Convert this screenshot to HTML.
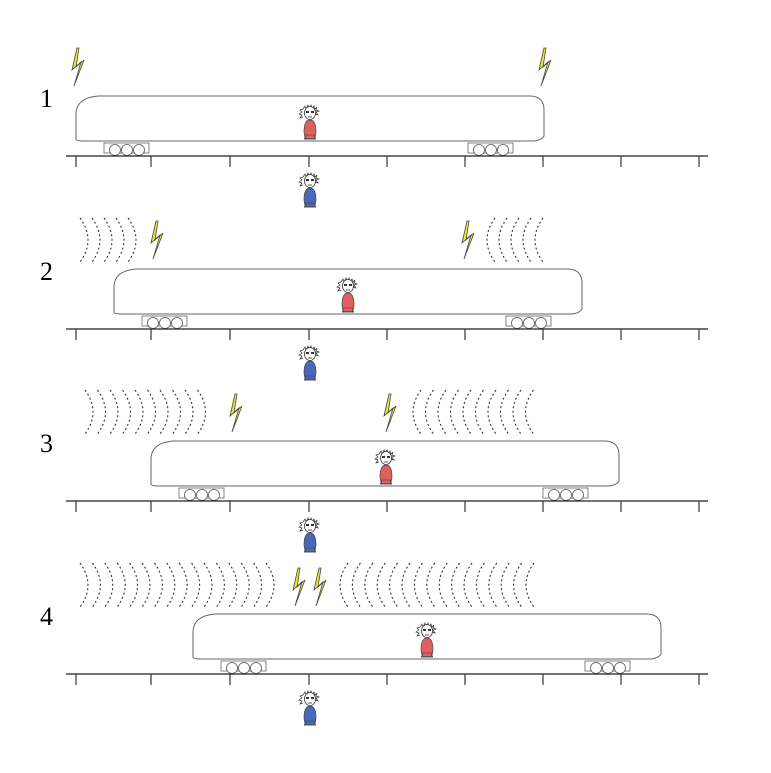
<!DOCTYPE html>
<html><head><meta charset="utf-8"><style>html,body{margin:0;padding:0;background:#fff}svg{display:block}</style></head>
<body>
<svg width="771" height="773" viewBox="0 0 771 773" xmlns="http://www.w3.org/2000/svg">
<defs>
<g id="bolt">
<polygon points="5,0 0,22 9,14 2,38 12,12 4,19 7,0" fill="#e8e830" stroke="#444" stroke-width="0.8"/>
</g>
<g id="person">
<path d="M-7,-30 l2,-3 l1,3 l2,-4 l1,4 l2,-4 l1,4 l2,-3 l1,3 l2,-2 l-1,3 l3,1 l-3,1 l2,3 l-3,-1 M-7,-30 l-3,1 l2,2 l-3,2 l3,1 l-2,3 l3,-1" fill="none" stroke="#333" stroke-width="0.7"/>
<ellipse cx="0" cy="-26" rx="5.5" ry="6.5" fill="#fff" stroke="#333" stroke-width="0.8"/>
<rect x="-4" y="-28" width="3" height="2" fill="#333"/><rect x="1" y="-28" width="3" height="2" fill="#333"/>
<path d="M-2,-22 h4" stroke="#333" stroke-width="0.8"/>
<path d="M-6,-7 Q-6,-19 0,-19 Q6,-19 6,-7 L5,-1 L-5,-1 Z" stroke="#444" stroke-width="0.7"/>
<rect x="-4.5" y="-4" width="9" height="4" stroke="#444" stroke-width="0.6"/>
<rect x="-6" y="-1" width="12" height="1.5" fill="#555"/>
</g>
<g id="train">
<path d="M0,43 L0,18 Q0,2 22,0 L455,0 Q468,1 468,14 L468,40 Q466,44 458,45 L8,45 Q0,45 0,43 Z" fill="#fff" stroke="#666" stroke-width="1"/>
<rect x="28" y="47" width="45" height="10" fill="#fff" stroke="#666" stroke-width="0.8"/>
<circle cx="39" cy="54" r="5.5" fill="#fff" stroke="#555" stroke-width="0.8"/>
<circle cx="51" cy="54" r="5.5" fill="#fff" stroke="#555" stroke-width="0.8"/>
<circle cx="63" cy="54" r="5.5" fill="#fff" stroke="#555" stroke-width="0.8"/>
<rect x="392" y="47" width="45" height="10" fill="#fff" stroke="#666" stroke-width="0.8"/>
<circle cx="403" cy="54" r="5.5" fill="#fff" stroke="#555" stroke-width="0.8"/>
<circle cx="415" cy="54" r="5.5" fill="#fff" stroke="#555" stroke-width="0.8"/>
<circle cx="427" cy="54" r="5.5" fill="#fff" stroke="#555" stroke-width="0.8"/>
</g>
<g id="track">
<line x1="66" y1="0" x2="708" y2="0" stroke="#222" stroke-width="1.3"/>
<g stroke="#333" stroke-width="1.2">
<line x1="76" y1="0" x2="76" y2="11"/><line x1="151" y1="0" x2="151" y2="11"/><line x1="230" y1="0" x2="230" y2="11"/>
<line x1="309" y1="0" x2="309" y2="11"/><line x1="387" y1="0" x2="387" y2="11"/><line x1="465" y1="0" x2="465" y2="11"/>
<line x1="543" y1="0" x2="543" y2="11"/><line x1="621" y1="0" x2="621" y2="11"/><line x1="699" y1="0" x2="699" y2="11"/>
</g>
</g>
<path id="wr" d="M0,0 Q16,22 0,44" fill="none" stroke="#333" stroke-width="1.1" stroke-dasharray="2,2.5"/>
<path id="wl" d="M8,0 Q-8,22 8,44" fill="none" stroke="#333" stroke-width="1.1" stroke-dasharray="2,2.5"/>
</defs>
<g font-family="Liberation Serif, serif" font-size="26" fill="#000">
<text x="40" y="107">1</text><text x="40" y="280">2</text><text x="40" y="452">3</text><text x="40" y="625">4</text>
</g>
<!-- panel 1 -->
<use href="#train" x="76" y="96"/>
<use href="#track" x="0" y="156"/>
<use href="#person" x="310" y="139" fill="#e06060"/>
<use href="#person" x="310" y="207" fill="#4a68b8"/>
<use href="#bolt" x="72" y="48"/><use href="#bolt" x="539" y="48"/>
<!-- panel 2 -->
<use href="#train" x="114" y="269"/>
<use href="#track" x="0" y="329"/>
<use href="#person" x="348" y="312" fill="#e06060"/>
<use href="#person" x="310" y="380" fill="#4a68b8"/>
<use href="#bolt" x="151" y="221"/><use href="#bolt" x="462" y="221"/>
<g transform="translate(0,218)">
<use href="#wr" x="80"/><use href="#wr" x="92"/><use href="#wr" x="104"/><use href="#wr" x="116"/><use href="#wr" x="128"/>
<use href="#wl" x="487"/><use href="#wl" x="499"/><use href="#wl" x="511"/><use href="#wl" x="523"/><use href="#wl" x="535"/>
</g>
<!-- panel 3 -->
<use href="#train" x="151" y="441"/>
<use href="#track" x="0" y="501"/>
<use href="#person" x="386" y="484" fill="#e06060"/>
<use href="#person" x="310" y="552" fill="#4a68b8"/>
<use href="#bolt" x="230" y="394"/><use href="#bolt" x="384" y="394"/>
<g transform="translate(0,390)">
<use href="#wr" x="85"/><use href="#wr" x="97.5"/><use href="#wr" x="110"/><use href="#wr" x="122.5"/><use href="#wr" x="135"/><use href="#wr" x="147.5"/><use href="#wr" x="160"/><use href="#wr" x="172.5"/><use href="#wr" x="185"/><use href="#wr" x="197.5"/>
<use href="#wl" x="413"/><use href="#wl" x="425.5"/><use href="#wl" x="438"/><use href="#wl" x="450.5"/><use href="#wl" x="463"/><use href="#wl" x="475.5"/><use href="#wl" x="488"/><use href="#wl" x="500.5"/><use href="#wl" x="513"/><use href="#wl" x="525.5"/>
</g>
<!-- panel 4 -->
<use href="#train" x="193" y="614"/>
<use href="#track" x="0" y="674"/>
<use href="#person" x="427" y="657" fill="#e06060"/>
<use href="#person" x="310" y="725" fill="#4a68b8"/>
<use href="#bolt" x="293" y="568"/><use href="#bolt" x="314" y="568"/>
<g transform="translate(0,563)">
<use href="#wr" x="80"/><use href="#wr" x="92.4"/><use href="#wr" x="104.8"/><use href="#wr" x="117.2"/><use href="#wr" x="129.6"/><use href="#wr" x="142"/><use href="#wr" x="154.4"/><use href="#wr" x="166.8"/><use href="#wr" x="179.2"/><use href="#wr" x="191.6"/><use href="#wr" x="204"/><use href="#wr" x="216.4"/><use href="#wr" x="228.8"/><use href="#wr" x="241.2"/><use href="#wr" x="253.6"/><use href="#wr" x="266"/>
<use href="#wl" x="340"/><use href="#wl" x="352.4"/><use href="#wl" x="364.8"/><use href="#wl" x="377.2"/><use href="#wl" x="389.6"/><use href="#wl" x="402"/><use href="#wl" x="414.4"/><use href="#wl" x="426.8"/><use href="#wl" x="439.2"/><use href="#wl" x="451.6"/><use href="#wl" x="464"/><use href="#wl" x="476.4"/><use href="#wl" x="488.8"/><use href="#wl" x="501.2"/><use href="#wl" x="513.6"/><use href="#wl" x="526"/>
</g>
</svg>
</body></html>
